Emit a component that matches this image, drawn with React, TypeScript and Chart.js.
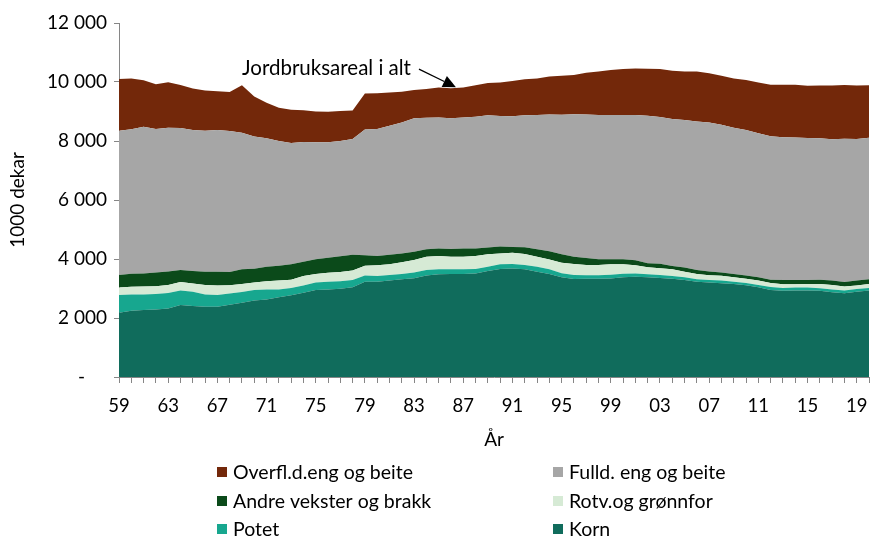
import React, { useEffect, useRef } from "react";
import { Chart, registerables } from "chart.js";

Chart.register(...registerables);

const years = [
  "1959","1960","1961","1962","1963","1964","1965","1966","1967","1968",
  "1969","1970","1971","1972","1973","1974","1975","1976","1977","1978",
  "1979","1980","1981","1982","1983","1984","1985","1986","1987","1988",
  "1989","1990","1991","1992","1993","1994","1995","1996","1997","1998",
  "1999","2000","2001","2002","2003","2004","2005","2006","2007","2008",
  "2009","2010","2011","2012","2013","2014","2015","2016","2017","2018",
  "2019","2020",
];

const korn = [
  2180,2250,2270,2290,2320,2440,2410,2380,2380,2450,
  2520,2590,2630,2700,2770,2860,2950,2970,2990,3040,
  3230,3230,3270,3310,3350,3440,3480,3490,3490,3510,
  3590,3660,3680,3650,3570,3490,3380,3320,3330,3330,
  3340,3380,3400,3380,3360,3330,3290,3230,3200,3180,
  3150,3110,3040,2950,2920,2930,2930,2920,2870,2840,
  2890,2930,
];
const potet = [
  600,550,530,520,530,490,480,420,400,380,
  360,360,340,270,250,240,250,260,260,250,
  210,190,190,180,190,190,170,160,160,150,
  150,160,150,150,170,160,140,140,120,120,
  130,120,110,100,100,90,90,80,90,90,
  80,80,80,100,100,100,100,90,100,90,
  90,90,
];
const rotv = [
  250,260,270,270,270,290,280,320,320,280,
  270,250,280,300,280,320,290,300,310,320,
  330,370,360,400,430,450,450,430,430,440,
  420,370,380,370,340,330,350,370,350,350,
  350,320,280,240,230,230,190,180,160,160,
  150,140,150,140,120,110,120,140,150,140,
  120,130,
];
const andre = [
  430,440,440,460,460,410,420,450,470,450,
  500,470,490,500,520,490,500,510,530,530,
  360,310,320,300,280,250,260,260,280,260,
  230,230,200,230,250,280,290,250,230,190,
  170,170,170,140,150,110,140,140,130,110,
  110,110,110,110,150,150,140,150,150,150,
  170,160,
];
const fulld = [
  4890,4900,4970,4870,4870,4810,4780,4780,4800,4780,
  4630,4480,4350,4230,4110,4060,3970,3920,3910,3930,
  4260,4310,4380,4440,4520,4460,4440,4430,4440,4460,
  4480,4430,4430,4470,4550,4640,4730,4830,4870,4890,
  4890,4890,4920,5000,4970,4990,5000,5030,5050,5010,
  4960,4930,4880,4860,4840,4830,4810,4790,4790,4860,
  4800,4800,
];
const overfl = [
  1750,1720,1580,1510,1540,1460,1410,1360,1320,1320,
  1610,1360,1210,1130,1130,1070,1040,1030,1020,960,
  1220,1210,1120,1040,960,970,1010,1020,1010,1070,
  1100,1130,1190,1220,1240,1290,1320,1330,1410,1480,
  1530,1560,1580,1590,1630,1630,1650,1700,1670,1660,
  1670,1700,1720,1750,1780,1790,1770,1790,1820,1820,
  1810,1780,
];

const seriesLabels = [
  "Korn",
  "Potet",
  "Rotv.og grønnfor",
  "Andre vekster og brakk",
  "Fulld. eng og beite",
  "Overfl.d.eng og beite",
];
const seriesColors = ["#106c5c", "#17a78f", "#d6ead5", "#0b4a1a", "#a6a6a6", "#73280a"];
const yTicks = [0, 2000, 4000, 6000, 8000, 10000, 12000];
const annotationText = "Jordbruksareal i alt";
const annotationIndex = 27;

const FONT = "Lato, 'Open Sans', sans-serif";

export default function App() {
  const ref = useRef<HTMLCanvasElement | null>(null);

  useEffect(() => {
    document.body.style.margin = "0";
    const canvas = ref.current;
    if (!canvas) return;
    const series = [korn, potet, rotv, andre, fulld, overfl];

    const annotationPlugin = {
      id: "annot",
      afterDatasetsDraw(chart: any) {
        const ctx = chart.ctx;
        const xs = chart.scales.x;
        const ys = chart.scales.y;
        const total = series.reduce((s, arr) => s + arr[annotationIndex], 0);
        const tx = xs.getPixelForValue(annotationIndex) + 5;
        const ty = ys.getPixelForValue(total) - 1;
        const sx = tx - 37;
        const sy = ty - 18;
        ctx.save();
        ctx.strokeStyle = "#000";
        ctx.fillStyle = "#000";
        ctx.lineWidth = 1.3;
        const ang = Math.atan2(ty - sy, tx - sx);
        const hl = 13;
        const hw = 6;
        const bx = tx - hl * Math.cos(ang);
        const by = ty - hl * Math.sin(ang);
        ctx.beginPath();
        ctx.moveTo(sx, sy);
        ctx.lineTo(bx, by);
        ctx.stroke();
        ctx.beginPath();
        ctx.moveTo(tx, ty);
        ctx.lineTo(bx + hw * Math.sin(ang), by - hw * Math.cos(ang));
        ctx.lineTo(bx - hw * Math.sin(ang), by + hw * Math.cos(ang));
        ctx.closePath();
        ctx.fill();
        ctx.font = `20.5px ${FONT}`;
        ctx.textAlign = "right";
        ctx.textBaseline = "middle";
        ctx.fillText(annotationText, sx - 8, sy - 1);
        ctx.restore();
      },
    };

    const legendPlugin = {
      id: "gridLegend",
      afterDraw(chart: any) {
        const ctx = chart.ctx;
        const order = [5, 4, 3, 2, 1, 0];
        const colX = [217, 553];
        const rowY = [472, 501, 529];
        ctx.save();
        ctx.font = `19.5px ${FONT}`;
        ctx.textBaseline = "middle";
        ctx.textAlign = "left";
        order.forEach((di, k) => {
          const ds = chart.data.datasets[di];
          const x = colX[k % 2];
          const y = rowY[Math.floor(k / 2)];
          ctx.fillStyle = ds.backgroundColor;
          ctx.fillRect(x, y - 5, 10, 10);
          ctx.fillStyle = "#000";
          ctx.fillText(ds.label, x + 16, y + 1);
        });
        ctx.restore();
      },
    };

    const chart = new Chart(canvas, {
      type: "line",
      data: {
        labels: years,
        datasets: series.map((arr, i) => ({
          label: seriesLabels[i],
          data: arr,
          backgroundColor: seriesColors[i],
          borderColor: seriesColors[i],
          borderWidth: 0,
          pointRadius: 0,
          fill: i === 0 ? "origin" : "-1",
          tension: 0,
        })),
      },
      options: {
        animation: false,
        responsive: false,
        maintainAspectRatio: false,
        events: [],
        layout: { padding: { left: 0, right: 1, top: 23, bottom: 78 } },
        plugins: {
          legend: { display: false },
          tooltip: { enabled: false },
        },
        scales: {
          x: {
            type: "category",
            offset: false,
            grid: {
              display: true,
              drawOnChartArea: false,
              drawTicks: true,
              tickLength: 6,
              color: "#868686",
            },
            border: { color: "#868686", width: 1 },
            ticks: {
              autoSkip: false,
              maxRotation: 0,
              minRotation: 0,
              padding: 12,
              color: "#000",
              font: { family: FONT, size: 18.5 },
              callback: (_v: any, idx: number) => (idx % 4 === 0 ? years[idx].slice(2) : ""),
            },
            title: {
              display: true,
              text: "År",
              color: "#000",
              font: { family: FONT, size: 19 },
              padding: { top: 0, bottom: 8 },
            },
            afterFit: (s: any) => {
              s.height = 82;
              s.paddingLeft = 0;
              s.paddingRight = 0;
            },
          },
          y: {
            stacked: true,
            min: 0,
            max: 12000,
            afterBuildTicks: (s: any) => {
              s.ticks = yTicks.map((v) => ({ value: v }));
            },
            grid: {
              display: true,
              drawOnChartArea: false,
              drawTicks: true,
              tickLength: 5,
              color: "#868686",
            },
            border: { color: "#868686", width: 1 },
            ticks: {
              padding: 7,
              color: "#000",
              font: { family: FONT, size: 19 },
              callback: (v: any) =>
                v === 0 ? "-\u2007\u2007" : String(v).replace(/\B(?=(\d{3})+(?!\d))/g, " "),
            },
            title: {
              display: true,
              text: "1000 dekar",
              color: "#000",
              font: { family: FONT, size: 19 },
              padding: { top: 6, bottom: 0 },
            },
            afterFit: (s: any) => {
              s.width = 119;
            },
          },
        },
      },
      plugins: [annotationPlugin, legendPlugin],
    } as any);

    return () => chart.destroy();
  }, []);

  return (
    <div style={{ width: 870, height: 537, background: "#fff" }}>
      <canvas ref={ref} width={870} height={537} style={{ display: "block", width: 870, height: 537 }} />
    </div>
  );
}
